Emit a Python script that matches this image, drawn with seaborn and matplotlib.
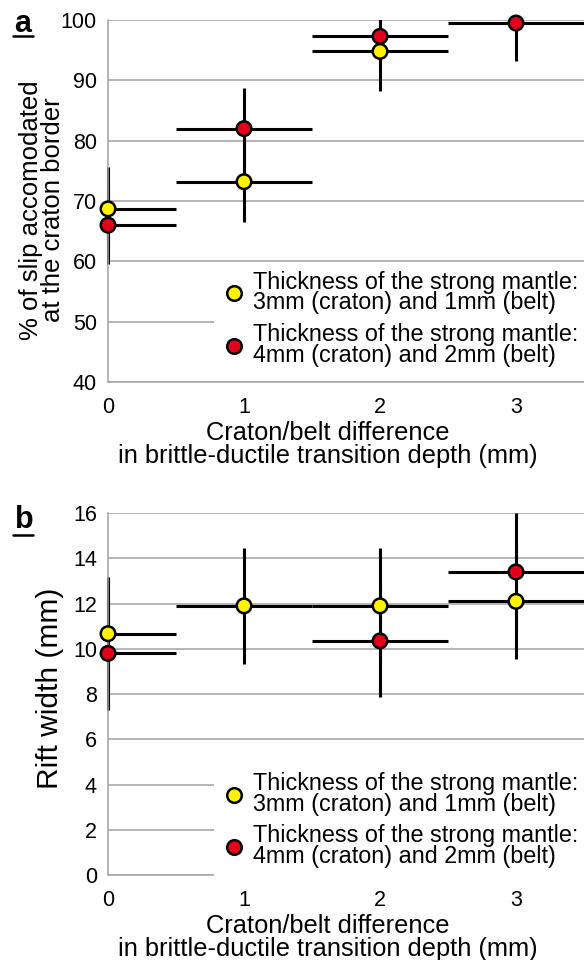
import numpy as np
import pandas as pd
import matplotlib
matplotlib.use("Agg")
import matplotlib.pyplot as plt
from matplotlib.lines import Line2D
from matplotlib.patches import Rectangle
import seaborn as sns

# craton/belt difference in brittle-ductile transition depth (mm)
depth_diff = [0, 1, 2, 3]

series_labels = ["Thickness of the strong mantle:\n3mm (craton) and 1mm (belt)",
                 "Thickness of the strong mantle:\n4mm (craton) and 2mm (belt)"]
series_colors = ["#FFF200", "#E3001B"]

# panel a: % of slip accommodated at the craton border
slip_thin = [68.7, 73.2, 94.8, np.nan]
slip_thin_err = [7.0, 6.7, 6.5, np.nan]
slip_thick = [66.0, 82.0, 97.3, 99.5]
slip_thick_err = [6.4, 6.8, 4.0, 6.3]

# panel b: rift width (mm)
rift_thin = [10.67, 11.9, 11.9, 12.1]
rift_thin_err = [2.5, 2.55, 2.55, 2.55]
rift_thick = [9.8, np.nan, 10.35, 13.4]
rift_thick_err = [2.52, np.nan, 2.5, 2.6]

x_halfwidth = 0.5

sns.set_style("white")
plt.rcParams["font.family"] = ["Liberation Sans", "DejaVu Sans"]
plt.rcParams["text.color"] = "black"
plt.rcParams["axes.labelcolor"] = "black"
plt.rcParams["xtick.labelcolor"] = "black"
plt.rcParams["ytick.labelcolor"] = "black"
tick_font = ["Liberation Sans Narrow", "Liberation Sans", "DejaVu Sans"]

grey = "#A2A2A2"

fig = plt.figure(figsize=(5.84, 9.6), dpi=100)
ax_a = fig.add_axes([0.185, 0.6021, 0.815, 0.377])
ax_b = fig.add_axes([0.185, 0.0885, 0.815, 0.377])


def draw_panel(ax, thin, thin_err, thick, thick_err):
    df = pd.DataFrame({
        "x": depth_diff * 2,
        "y": list(thin) + list(thick),
        "err": list(thin_err) + list(thick_err),
        "series": [series_labels[0]] * 4 + [series_labels[1]] * 4,
    })
    # vertical bars: clip box a bit wider so the x=0 bar is not cut in half
    clip = Rectangle((-0.01, 0), 1.02, 1, transform=ax.transAxes)
    for lab in series_labels:
        d = df[df.series == lab].dropna()
        eb = ax.errorbar(d.x, d.y, yerr=d.err, fmt="none", ecolor="black",
                         elinewidth=2.2, capsize=0, zorder=2)
        eb[2][0].set_clip_path(clip)
        ax.errorbar(d.x, d.y, xerr=x_halfwidth, fmt="none", ecolor="black",
                    elinewidth=2.2, capsize=0, zorder=2)
    sns.scatterplot(data=df.dropna(), x="x", y="y", hue="series",
                    hue_order=series_labels, palette=series_colors,
                    s=110, edgecolor="black", linewidth=1.8, zorder=3,
                    ax=ax, clip_on=False)

    ax.set_xlim(0, 3.5)
    ax.set_xticks([0, 1, 2, 3])
    ax.set_xticks([0.5, 1.5, 2.5], minor=True)
    ax.grid(axis="y", color=grey, linewidth=1.1)
    ax.set_axisbelow(True)
    for s in ["top", "right"]:
        ax.spines[s].set_visible(False)
    for s in ["left", "bottom"]:
        ax.spines[s].set_color(grey)
        ax.spines[s].set_linewidth(1.1)
    ax.tick_params(axis="both", which="both", direction="out", color=grey,
                   width=1.1, labelsize=15.5, labelcolor="black")
    ax.tick_params(axis="x", which="major", length=5, pad=6)
    ax.tick_params(axis="x", which="minor", length=4)
    ax.tick_params(axis="y", which="major", length=5, pad=3)
    for t in ax.get_xticklabels() + ax.get_yticklabels():
        t.set_family(tick_font)
    ax.set_xlabel("Craton/belt difference\nin brittle-ductile transition depth (mm)",
                  fontsize=18.3, linespacing=0.92)
    ax.xaxis.set_label_coords(0.462, -0.108, transform=ax.transAxes)
    ax.xaxis.label.set_va("top")


draw_panel(ax_a, slip_thin, slip_thin_err, slip_thick, slip_thick_err)
ax_a.set_ylim(40, 100)
ax_a.set_yticks(range(40, 101, 10))
for t in ax_a.get_yticklabels():
    t.set_family(tick_font)
ax_a.set_ylabel("% of slip accomodated\nat the craton border", fontsize=18.5,
                linespacing=0.92)
ax_a.yaxis.set_label_coords(-0.09, 0.475)

draw_panel(ax_b, rift_thin, rift_thin_err, rift_thick, rift_thick_err)
ax_b.set_ylim(0, 16)
ax_b.set_yticks(range(0, 17, 2))
for t in ax_b.get_yticklabels():
    t.set_family(tick_font)
ax_b.set_ylabel("Rift width (mm)", fontsize=21.5)
ax_b.yaxis.set_label_coords(-0.093, 0.517)

for ax, top in [(ax_a, 0.33), (ax_b, 0.307)]:
    handles, labels = ax.get_legend_handles_labels()
    for h in handles:
        h.set_markersize(10.5)
        h.set_markeredgewidth(1.8)
    leg = ax.legend(handles, labels, loc="upper left", bbox_to_anchor=(0.223, top),
                    borderaxespad=0, borderpad=0.35, handlelength=1.0,
                    handletextpad=0.3, labelspacing=0.38, fontsize=16.8,
                    frameon=True, fancybox=False, framealpha=1)
    leg.get_frame().set_edgecolor("white")
    leg.get_frame().set_linewidth(0)
    for t in leg.get_texts():
        t.set_linespacing(0.86)

# underlined panel letters
for letter, ty, uy in [("a", 0.9667, 0.9622), ("b", 0.45, 0.4427)]:
    fig.text(0.025, ty, letter, fontsize=22, fontweight="bold", va="baseline")
    fig.add_artist(Line2D([0.022, 0.057], [uy, uy], color="black",
                          linewidth=1.8, transform=fig.transFigure))

fig.savefig("out.png", dpi=100)
